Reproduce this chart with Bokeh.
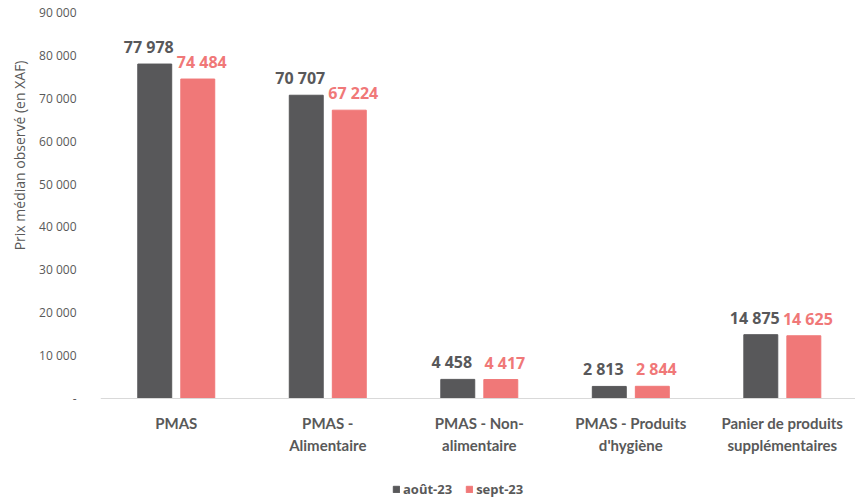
from bokeh.plotting import figure
from bokeh.models import ColumnDataSource, Legend, LegendItem, Range1d, FixedTicker, Span, Title
from bokeh.core.properties import value
from bokeh.embed import file_html
from bokeh.resources import INLINE

categories = ["PMAS", "PMAS -\nAlimentaire", "PMAS - Non-\nalimentaire", "PMAS - Produits\nd'hygiène", "Panier de produits\nsupplémentaires"]
series_names = ["août-23", "sept-23"]
aout = [77978, 70707, 4458, 2813, 14875]
sept = [74484, 67224, 4417, 2844, 14625]
y_ticks = [0, 10000, 20000, 30000, 40000, 50000, 60000, 70000, 80000, 90000]
y_title = "Prix médian observé (en XAF)"

DARK = "#58585A"
PINK = "#F07878"
GREY = "#595959"
FONT = "Open Sans"
CAT_FONT = "Lato"

def fmt(v):
    return f"{v:,}".replace(",", " ")

idx = list(range(len(categories)))
off = 0.142
w = 0.224
src = ColumnDataSource(dict(
    xa=[i - off for i in idx], xb=[i + off for i in idx], aout=aout, sept=sept,
    aout_lbl=[fmt(v) for v in aout], sept_lbl=[fmt(v) for v in sept],
))
lines = [c.split("\n") + [""] * (2 - len(c.split("\n"))) for c in categories]
cat_src = ColumnDataSource(dict(x=idx, zero=[0] * len(idx),
                                l1=[l[0] for l in lines], l2=[l[1] for l in lines]))

# frame: 90 000 at top, 0 at 386 px down, 102 px of room below the baseline
units_per_px = 90000 / 386.0
p = figure(width=855, height=500, x_range=Range1d(-0.5, 4.483),
           y_range=Range1d(-102 * units_per_px, 90000), x_axis_location=None,
           output_backend="svg", toolbar_location=None)
p.min_border_left = 100
p.min_border_right = 0
p.min_border_top = 12
p.min_border_bottom = 0
p.outline_line_color = None
p.xgrid.grid_line_color = None
p.ygrid.grid_line_color = None

p.add_layout(Span(location=0, dimension="width", line_color="#D9D9D9", line_width=1))

r1 = p.vbar(x="xa", top="aout", width=w, source=src, color=DARK)
r2 = p.vbar(x="xb", top="sept", width=w, source=src, color=PINK)

p.text(x="xa", y="aout", text="aout_lbl", source=src,
       text_align="center", text_baseline="bottom", y_offset=-6, x_offset=-6,
       text_font=value(FONT), text_font_style="bold", text_font_size="16px", text_color=DARK)
p.text(x="xb", y="sept", text="sept_lbl", source=src,
       text_align="center", text_baseline="bottom", y_offset=-6, x_offset=4,
       text_font=value(FONT), text_font_style="bold", text_font_size="16px", text_color=PINK)

# category labels under the baseline
p.text(x="x", y="zero", text="l1", source=cat_src, text_align="center", text_baseline="middle",
       y_offset=24, text_font=value(CAT_FONT), text_font_style="bold", text_font_size="15px",
       text_color=GREY)
p.text(x="x", y="zero", text="l2", source=cat_src, text_align="center", text_baseline="middle",
       y_offset=46, text_font=value(CAT_FONT), text_font_style="bold", text_font_size="15px",
       text_color=GREY)

# y axis
ya = p.yaxis[0]
ya.ticker = FixedTicker(ticks=y_ticks)
ya.major_label_overrides = {t: ("-" if t == 0 else fmt(t)) for t in y_ticks}
ya.axis_line_color = None
ya.major_tick_line_color = None
ya.minor_tick_line_color = None
ya.major_label_standoff = 18
ya.major_label_text_font = FONT
ya.major_label_text_font_size = "12px"
ya.major_label_text_color = GREY

p.add_layout(Title(text=y_title, align="right", offset=48, standoff=15,
                   text_font=FONT, text_font_style="normal", text_font_size="14px",
                   text_color=GREY), "left")

legend = Legend(items=[LegendItem(label=series_names[0], renderers=[r1]),
                       LegendItem(label=series_names[1], renderers=[r2])],
                orientation="horizontal", location=(292, 2),
                label_text_font=FONT, label_text_font_style="bold", label_text_font_size="13px",
                label_text_color=GREY, glyph_width=8, glyph_height=8, spacing=13,
                label_standoff=3, label_height=14, border_line_color=None,
                background_fill_alpha=0, padding=0, margin=0)
p.add_layout(legend, "center")

open("out.html", "w").write(file_html(p, INLINE))
